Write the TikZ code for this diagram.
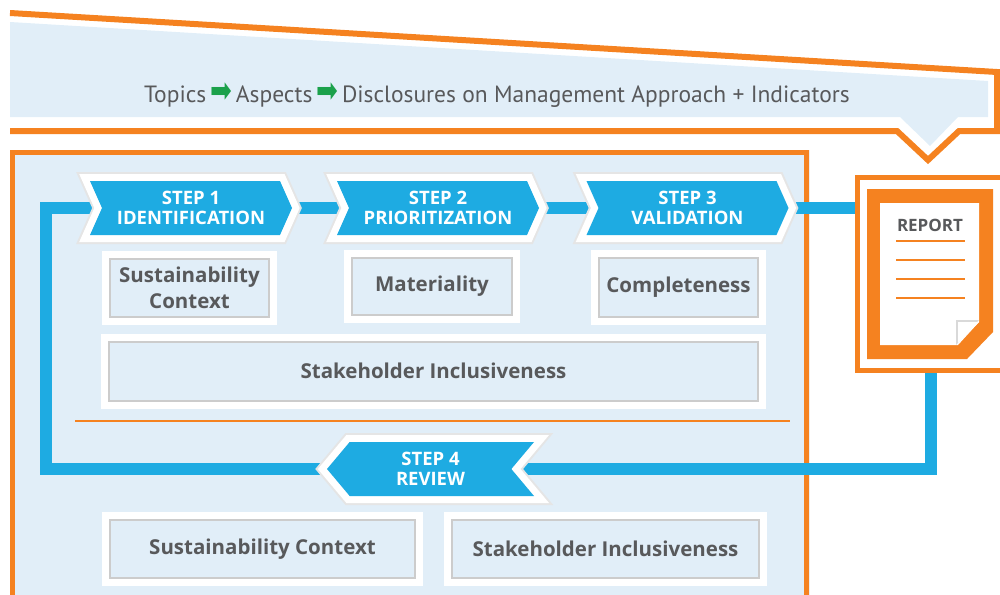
\documentclass[tikz,border=0pt]{standalone}
\usepackage{fontspec}
\setmainfont{Open Sans}
\newfontfamily\bannerfont{PT Sans}
\newfontfamily\arrowfont{DejaVu Sans}
\usetikzlibrary{shapes.symbols,backgrounds}

\definecolor{griOrange}{HTML}{F58220}
\definecolor{griBlue}{HTML}{1EABE2}
\definecolor{griLight}{HTML}{E1EEF8}
\definecolor{griGray}{HTML}{58595B}
\definecolor{griGreen}{HTML}{1BA14B}

\tikzset{
  flow/.style={draw=griBlue, line width=12pt},
  stepbox/.style={shape=signal, fill=griBlue, text=white, align=center,
    font=\bfseries\fontsize{18.5}{20}\selectfont,
    minimum width=202pt, minimum height=54pt, inner sep=0pt,
    preaction={draw=black!10, line width=18pt},
    preaction={draw=white, line width=14pt}},
  stepright/.style={stepbox, signal to=east, signal from=west, signal pointer angle=132},
  stepleft/.style={stepbox, signal to=west, signal from=east, signal pointer angle=100},
  card/.style={rectangle, fill=griLight, text=griGray, align=center,
    font=\bfseries\fontsize{20.5}{26}\selectfont, inner sep=0pt,
    preaction={draw=white, line width=18pt},
    preaction={draw=black!20, line width=4pt}},
  docline/.style={draw=griOrange, line width=2pt},
}
\newcommand{\greenarrow}{{\color{griGreen}\arrowfont\fontsize{26}{26}\selectfont\scalebox{1}[1.35]{➡}}}

\begin{document}
\begin{tikzpicture}[x=1pt,y=-1pt]
\useasboundingbox (0,0) rectangle (1000,594);
\clip (0,0) rectangle (1000,594);
% top banner
\fill[griLight] (10,22) -- (988,81) -- (988,117) -- (958,117) -- (930,146) -- (900,117) -- (10,117) -- cycle;
\draw[griOrange, line width=6pt, line join=miter] (10,13) -- (997,72) -- (997,131) -- (959,131) -- (928,160) -- (897,131) -- (10,131);
\node[text=griGray, font=\bannerfont\fontsize{23.5}{26}\selectfont] (scope) at (497,95)
  {Topics\,\greenarrow\,Aspects\,\greenarrow\,Disclosures on Management Approach + Indicators};

% main panel
\begin{scope}[on background layer]
\fill[black!7] (10,150) rectangle (810,610);
\draw[griOrange, fill=griLight, line width=5pt] (12.5,152.5) rectangle (806,620);
\end{scope}
\draw[griOrange, line width=2.5pt] (75,421) -- (790,421);

% report
\node[rectangle, fill=white, draw=griOrange, line width=5pt, minimum width=148pt, minimum height=193pt] (report) at (931,273.5) {};
\fill[griOrange] (867,189) -- (993,189) -- (993,332) -- (967,359) -- (867,359) -- cycle;
\fill[white] (880,203) -- (979,203) -- (979,322) -- (958,345) -- (880,345) -- cycle;
\fill[black!15] (956,320) -- (979,320) -- (956,345) -- cycle;
\fill[white] (958,322) -- (979,322) -- (958,343) -- cycle;
\node[text=griGray, font=\bfseries\fontsize{17}{18}\selectfont] (reporttitle) at (930,225) {REPORT};
\foreach \y in {241,260,279,298}
  \draw[docline] (896,\y) -- (965,\y);

% steps
\node[stepright] (s1) at (191,208) {STEP 1\\IDENTIFICATION};
\node[stepright] (s2) at (438,208) {STEP 2\\PRIORITIZATION};
\node[stepright] (s3) at (687.5,208) {STEP 3\\VALIDATION};
\node[stepleft, minimum width=207pt] (s4) at (430.5,469) {STEP 4\\REVIEW};
\coordinate (loopcorner) at (46,208);

% principles
\node[card, minimum width=157pt, minimum height=56pt] (context) at (189.5,288) {Sustainability\\Context};
\node[card, minimum width=158pt, minimum height=55pt] (materiality) at (432,286) {Materiality};
\node[card, minimum width=157pt, minimum height=57pt] (completeness) at (678.5,287.5) {Completeness};
\node[card, minimum width=647pt, minimum height=57pt] (inclusiveness) at (433.5,371) {Stakeholder Inclusiveness};
\node[card, minimum width=303pt, minimum height=56pt] (reviewcontext) at (262.5,549) {Sustainability Context};
\node[card, minimum width=305pt, minimum height=56pt] (reviewinclusiveness) at (605.5,549) {Stakeholder Inclusiveness};

% flow
\begin{scope}[on background layer]
\draw[flow] (s1.east) -- (s2.west);
\draw[flow] (s2.east) -- (s3.west);
\draw[flow] (s3.east) -- (s3.east -| report.west);
\draw[flow, line join=miter] (report.south) |- (s4.east);
\draw[flow, line join=miter] (s4.west) -| (loopcorner) |- (s1.west);
\end{scope}
\end{tikzpicture}
\end{document}
